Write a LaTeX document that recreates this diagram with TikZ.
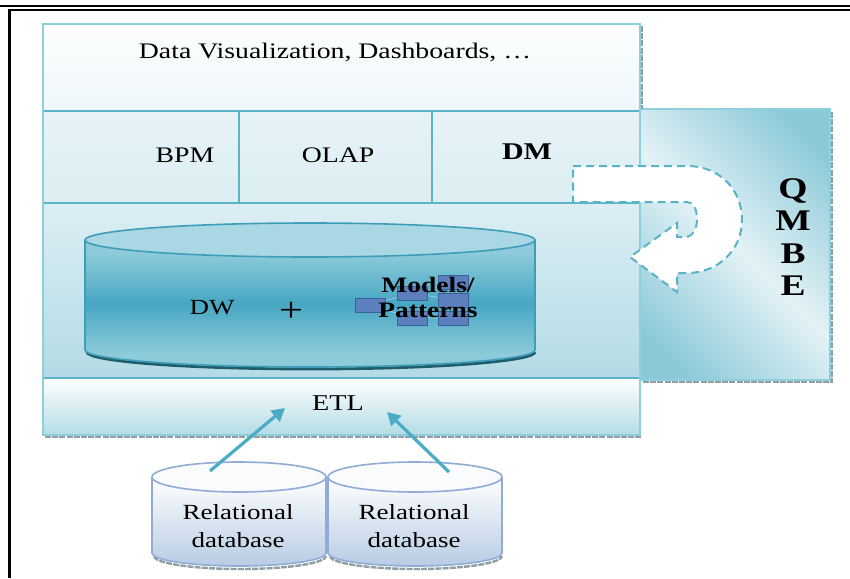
\documentclass[tikz,border=0pt]{standalone}
\usepackage{fontspec}
\setmainfont{Liberation Serif}[FakeStretch=1.25]
\usetikzlibrary{arrows.meta}

\definecolor{frameline}{HTML}{8FCFDD}
\definecolor{rowline}{HTML}{5DB4CA}
\definecolor{topfillA}{HTML}{FDFEFE}
\definecolor{topfillB}{HTML}{EEF7FA}
\definecolor{midfillA}{HTML}{E6F3F7}
\definecolor{midfillB}{HTML}{DCEEF3}
\definecolor{lowfillA}{HTML}{DCEEF4}
\definecolor{lowfillB}{HTML}{B3DBE5}
\definecolor{etlfillB}{HTML}{B4DCE6}
\definecolor{qmbedark}{HTML}{8BC9D8}
\definecolor{qmbelight}{HTML}{E3F2F6}
\definecolor{dwtop}{HTML}{A9D7E3}
\definecolor{dwedge}{HTML}{8DCBDA}
\definecolor{dwcore}{HTML}{47A7C2}
\definecolor{dwline}{HTML}{3E9EB9}
\definecolor{dwshadow}{HTML}{1F5C6C}
\definecolor{arrowteal}{HTML}{4BACC6}
\definecolor{dashteal}{HTML}{5AB2C8}
\definecolor{dbfill}{HTML}{B8CCE4}
\definecolor{dbline}{HTML}{8FABD6}
\definecolor{modelbox}{HTML}{5B80BD}
\definecolor{modeledge}{HTML}{3D5E98}
\definecolor{shadowgray}{HTML}{8E9EA3}

\pgfdeclarehorizontalshading{qmbeshade}{100bp}{color(0bp)=(qmbedark); color(22bp)=(qmbedark); color(50bp)=(qmbelight); color(78bp)=(qmbedark); color(100bp)=(qmbedark)}
\pgfdeclareverticalshading{dwbody}{100bp}{color(0bp)=(dwedge); color(30bp)=(dwedge); color(50bp)=(dwcore); color(70bp)=(dwedge); color(100bp)=(dwedge)}

\tikzset{
  boxline/.style={draw=frameline, line width=1pt},
  divider/.style={draw=rowline, line width=0.8pt},
  txt/.style={inner sep=0pt, font=\fontsize{11.1}{13}\selectfont},
  bigtxt/.style={inner sep=0pt, font=\fontsize{12}{14}\selectfont\bfseries},
  dbtxt/.style={inner sep=0pt, align=center, font=\fontsize{10.8}{14}\selectfont},
  feed/.style={draw=arrowteal, line width=1.6pt, -{Triangle[length=6.5pt,width=7pt]}},
  uturn/.style={draw=dashteal, fill=white, line width=1pt, dash pattern=on 4pt off 2.5pt},
  minibox/.style={draw=modeledge, fill=modelbox, line width=0.4pt, inner sep=0pt,
    minimum width=15pt, minimum height=7pt},
  shadowline/.style={draw=shadowgray, line width=1.2pt, dash pattern=on 3pt off 0.6pt}
}

\begin{document}
\begin{tikzpicture}[x=0.5pt, y=-0.5pt]
\useasboundingbox (0,0) rectangle (850,578);
\fill[white] (0,0) rectangle (850,578);

% page frame: double rule on top, single rule on the left
\draw[line width=1.2pt] (0,6) -- (850,6);
\draw[line width=1pt] (8,10) -- (850,10);
\draw[line width=1.6pt] (9.5,9.5) -- (9.5,578);

% QMBE side panel
\draw[shadowline] (643,381.5) -- (833,381.5);
\draw[shadowline] (831.5,112) -- (831.5,381.5);
\shade[shading=qmbeshade, shading angle=45] (640,109) rectangle (830,380);
\draw[boxline] (640,109) rectangle (830,380);

% main stack of layers
\draw[shadowline] (45,436.5) -- (642,436.5);
\draw[shadowline] (641.5,26) -- (641.5,109);
\shade[top color=topfillA, bottom color=topfillB] (43,24) rectangle (640,111);
\shade[top color=midfillA, bottom color=midfillB] (43,111) rectangle (640,203);
\shade[top color=lowfillA, bottom color=lowfillB] (43,203) rectangle (640,378);
\shade[top color=white, bottom color=etlfillB] (43,378) rectangle (640,435);
\draw[divider] (43,111) -- (640,111);
\draw[divider] (43,203) -- (640,203);
\draw[divider] (43,378) -- (640,378);
\draw[divider] (239,111) -- (239,203);
\draw[divider] (432,111) -- (432,203);
\draw[boxline] (43,24) rectangle (640,435);

\node[txt] (viz) at (335,53) {Data Visualization, Dashboards, …};
\node[txt] (bpm) at (185,155) {BPM};
\node[txt] (olap) at (338,155) {OLAP};
\node[bigtxt] (dm) at (527,152) {DM};

% data warehouse drum
\draw[dwshadow, line width=1.4pt] (87,352) arc[start angle=180, end angle=0, x radius=224, y radius=17];
\shade[shading=dwbody] (85,240) -- (85,350) arc[start angle=180, end angle=0, x radius=225, y radius=17] -- (535,240) -- cycle;
\draw[dwline, line width=0.8pt] (85,240) -- (85,350) arc[start angle=180, end angle=0, x radius=225, y radius=17] -- (535,240);
\draw[dwline, line width=0.8pt, fill=dwtop] (310,240) ellipse[x radius=225, y radius=17];

% small model diagram behind the label
\draw[arrowteal!60, line width=0.4pt] (370,305) -- (412,293) (370,305) -- (412,318) (412,293) -- (453,300) (412,318) -- (453,318);
\node[minibox] (mA) at (370,305) {};
\node[minibox] (mB) at (412,293) {};
\node[minibox] (mC) at (453,282) {};
\node[minibox] (mD) at (453,300) {};
\node[minibox] (mE) at (412,318) {};
\node[minibox] (mF) at (453,318) {};

\node[txt, font=\fontsize{10.8}{13}\selectfont] (dw) at (212,308) {DW};
\node[txt, font=\fontsize{17}{18}\selectfont] (plus) at (291,312) {+};
\node[inner sep=0pt, align=center, font=\fontsize{11}{12.5}\selectfont\bfseries] (models) at (428,297) {Models/\\Patterns};

% query-by-example loop
\draw[uturn] (573,166) -- (687,166)
  .. controls (720,166) and (742,190) .. (742,220)
  .. controls (742,250) and (718,273) .. (687,273)
  -- (677,273) -- (677,292) -- (630,257) -- (677,223) -- (677,237) -- (685,237)
  .. controls (693,237) and (697,228) .. (697,219)
  .. controls (697,209) and (693,202) .. (687,202)
  -- (573,202) -- cycle;

\node[inner sep=0pt, align=center, font=\fontsize{15}{16.3}\selectfont\bfseries] (qmbe) at (793,237) {Q\\M\\B\\E};

\node[txt, font=\fontsize{11.3}{13}\selectfont] (etl) at (338,403) {ETL};

% source databases
\foreach \cx in {239, 415}{
  \draw[shadowgray, line width=1.2pt, dash pattern=on 3pt off 0.6pt] (\cx-85,556) arc[start angle=180, end angle=0, x radius=86, y radius=13];
  \shade[top color=white, bottom color=dbfill] (\cx-87,477) -- (\cx-87,553) arc[start angle=180, end angle=0, x radius=87, y radius=13] -- (\cx+87,477) -- cycle;
  \draw[dbline, line width=0.8pt] (\cx-87,477) -- (\cx-87,553) arc[start angle=180, end angle=0, x radius=87, y radius=13] -- (\cx+87,477);
  \draw[dbline, line width=0.8pt, fill=white!92!dbfill] (\cx,477) ellipse[x radius=87, y radius=15];
}
\node[dbtxt] (db1) at (238,526) {Relational\\database};
\node[dbtxt] (db2) at (414,526) {Relational\\database};

% loading arrows into ETL
\coordinate (src1) at (210,471);
\coordinate (dst1) at (285,408);
\coordinate (src2) at (449,472);
\coordinate (dst2) at (387,412);
\draw[feed] (src1) -- (dst1);
\draw[feed] (src2) -- (dst2);
\end{tikzpicture}
\end{document}
